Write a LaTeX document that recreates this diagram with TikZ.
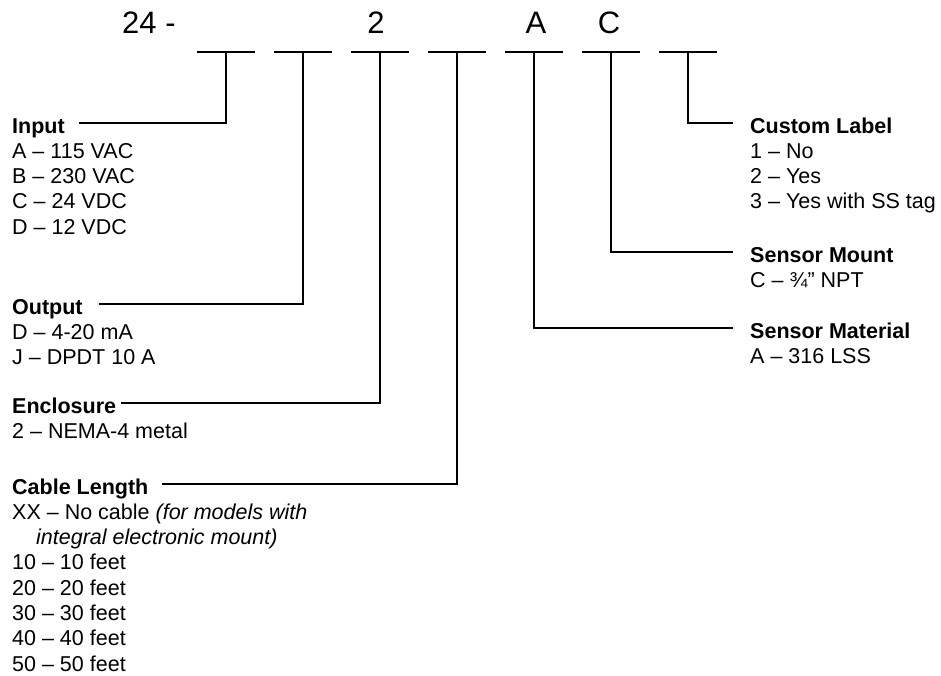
\documentclass[tikz,border=0pt]{standalone}
\usepackage{fontspec}
\setmainfont{Liberation Sans}
\tikzset{
  lead/.style={line width=1.7pt},
  code/.style={font=\fontsize{31}{36}\selectfont, inner sep=0pt, anchor=base},
  hdr/.style={font=\fontsize{21.5}{25.3}\selectfont\bfseries, inner sep=0pt,
    anchor=base west, text height=20pt, text depth=0pt},
  item/.style={font=\fontsize{21.5}{25.3}\selectfont, inner sep=0pt, anchor=base west}
}
\begin{document}
\begin{tikzpicture}[x=1pt,y=-1pt]
    \def\dy{25.3}
    \useasboundingbox (0,0) rectangle (941,675);
    % model code and blanks
    \foreach \i in {1,...,7} {
      \coordinate (b\i) at ({226+77*(\i-1)},52);
      \draw[lead] ([xshift=-29pt]b\i) -- ([xshift=29pt]b\i);
    }
    \node[code,anchor=base west] (pre) at (122,33.5) {24 -};
    \node[code] (c3) at (376,33.5) {2};
    \node[code] (c5) at (536,33.5) {A};
    \node[code] (c6) at (609,33.5) {C};
    % left side
    \node[hdr] (hIn) at (12,133) {Input};
    \foreach \t [count=\k] in {A – 115 VAC, B – 230 VAC, C – 24 VDC, D – 12 VDC}
      \node[item] (in\k) at (12,{133+\dy*\k}) {\t};
    \node[hdr] (hOut) at (12,314) {Output};
    \foreach \t [count=\k] in {D – 4-20 mA, J – DPDT 10 A}
      \node[item] (out\k) at (12,{314+\dy*\k}) {\t};
    \node[hdr] (hEnc) at (12,413) {Enclosure};
    \node[item] (enc1) at (12,{413+\dy}) {2 – NEMA-4 metal};
    \node[hdr] (hCab) at (12,494) {Cable Length};
    \node[item] (cab0) at (12,{494+\dy}) {XX – No cable \textit{(for models with}};
    \node[item] (cab00) at (36,{494+2*\dy}) {\textit{integral electronic mount)}};
    \foreach \n [count=\k from 3] in {10,20,30,40,50}
      \node[item] (cab\n) at (12,{494+\k*\dy}) {\n\ – \n\ feet};
    % right side
    \node[hdr] (hCus) at (750,133) {Custom Label};
    \foreach \t [count=\k] in {1 – No, 2 – Yes, 3 – Yes with SS tag}
      \node[item] (cus\k) at (750,{133+\dy*\k}) {\t};
    \node[hdr] (hMnt) at (750,262) {Sensor Mount};
    \node[item] (mnt1) at (750,{262+\dy}) {C – ¾” NPT};
    \node[hdr] (hMat) at (750,338) {Sensor Material};
    \node[item] (mat1) at (750,{338+\dy}) {A – 316 LSS};
    % leaders
    \draw[lead] ([xshift=14pt]hIn.east) -| (b1);
    \draw[lead] ([xshift=16pt]hOut.east) -| (b2);
    \draw[lead] ([xshift=5pt]hEnc.east) -| (b3);
    \draw[lead] ([xshift=13pt]hCab.east) -| (b4);
    \draw[lead] (b5) |- ([xshift=-17pt]hMat.west);
    \draw[lead] (b6) |- ([xshift=-17pt]hMnt.west);
    \draw[lead] (b7) |- ([xshift=-17pt]hCus.west);
\end{tikzpicture}
\end{document}
